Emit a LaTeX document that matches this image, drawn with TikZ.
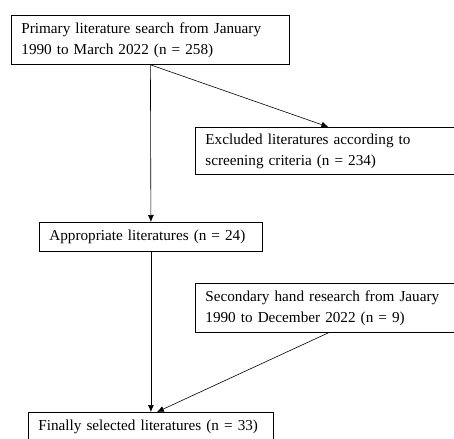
\documentclass[tikz,border=0pt]{standalone}
\usepackage{fontspec}
\setmainfont{Liberation Serif}
\usetikzlibrary{positioning,arrows,arrows.meta}

\begin{document}
\begin{tikzpicture}[x=1pt,y=-1pt,>={Latex[length=7pt,width=6pt]}]
	\tikzset{box/.style={draw,line width=0.8pt,rectangle,align=left,anchor=north west,inner xsep=10pt,inner ysep=0pt,font=\fontsize{15.2}{21}\selectfont}}
	\useasboundingbox (0,0) rectangle (454,438);
	\node[box,text width=258pt,minimum height=49pt] (search) at (11,15) {Primary literature search from January\\1990 to March 2022 (n = 258)};
	\node[box,text width=246pt,minimum height=47pt] (excluded) at (195,127) {Excluded literatures according to\\screening criteria (n = 234)};
	\node[box,text width=203pt,minimum height=29pt] (approp) at (39,222) {Appropriate literatures (n = 24)};
	\node[box,text width=246pt,minimum height=49pt] (second) at (195,283) {Secondary hand research from Jauary\\1990 to December 2022 (n = 9)};
	\node[box,text width=225pt,minimum height=29pt] (final) at (28,412) {Finally selected literatures (n = 33)};
	\coordinate (finalin) at ([xshift=6pt]final.north);
	\path[->,line width=0.6pt]
		(search.south) edge (approp.north)
		(search.south) edge (excluded.north)
		(approp.south) edge (final.north)
		(second.south) edge (finalin);
\end{tikzpicture}
\end{document}
